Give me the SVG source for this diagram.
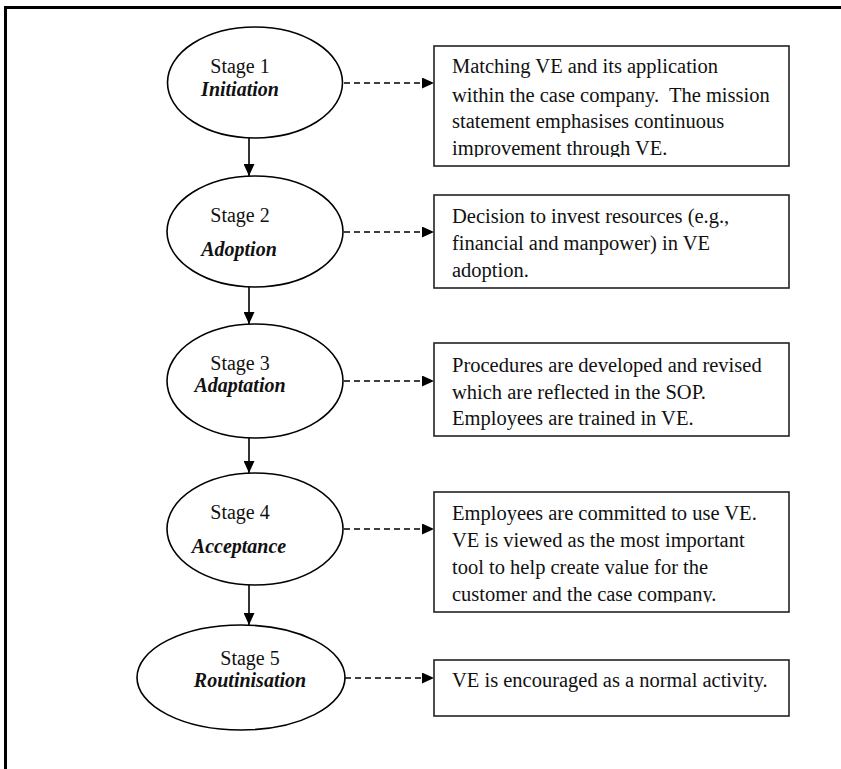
<svg xmlns="http://www.w3.org/2000/svg" width="841" height="769" viewBox="0 0 841 769">
<style>
.frame{fill:none;stroke:#000;stroke-width:3}
.ell{fill:#fff;stroke:#000;stroke-width:1.6}
.box{fill:#fff;stroke:#222;stroke-width:1.6}
.st{font-family:"Liberation Serif","Times New Roman",serif;font-size:20px;fill:#111;text-anchor:middle}
.nm{font-family:"Liberation Serif","Times New Roman",serif;font-size:20px;font-weight:bold;font-style:italic;fill:#111;text-anchor:middle}
.bt{font-family:"Liberation Serif","Times New Roman",serif;font-size:20.5px;fill:#111}
.solid{fill:none;stroke:#000;stroke-width:1.6}
.dash{fill:none;stroke:#000;stroke-width:1.6;stroke-dasharray:6 4}
</style>
<defs>
<marker id="ah" markerWidth="12" markerHeight="11" refX="12" refY="5.5" orient="auto" markerUnits="userSpaceOnUse">
<path d="M0,0 L12,5.5 L0,11 Z" fill="#000"/>
</marker>
<clipPath id="c1"><rect x="434" y="46" width="355" height="111"/></clipPath>
<clipPath id="c4"><rect x="434" y="492" width="355" height="110.5"/></clipPath>
</defs>
<rect width="841" height="769" fill="#fff"/>
<path class="frame" d="M5.5,769 V7.5 H841"/>

<g id="connectors">
<line class="solid" x1="249" y1="138" x2="249" y2="176" marker-end="url(#ah)"/>
<line class="solid" x1="249" y1="287" x2="249" y2="324" marker-end="url(#ah)"/>
<line class="solid" x1="249" y1="438" x2="249" y2="473" marker-end="url(#ah)"/>
<line class="solid" x1="249" y1="585" x2="249" y2="625" marker-end="url(#ah)"/>
<line class="dash" x1="344" y1="83" x2="434" y2="83" marker-end="url(#ah)"/>
<line class="dash" x1="344" y1="232" x2="434" y2="232" marker-end="url(#ah)"/>
<line class="dash" x1="344" y1="381" x2="434" y2="381" marker-end="url(#ah)"/>
<line class="dash" x1="344" y1="529" x2="434" y2="529" marker-end="url(#ah)"/>
<line class="dash" x1="345" y1="678" x2="434" y2="678" marker-end="url(#ah)"/>
</g>

<g id="stage1">
<ellipse class="ell" cx="255" cy="82.5" rx="87.5" ry="55.5"/>
<text class="st" x="240" y="73">Stage 1</text>
<text class="nm" x="240" y="96">Initiation</text>
</g>
<g id="stage2">
<ellipse class="ell" cx="255" cy="231.5" rx="88" ry="55.5"/>
<text class="st" x="240" y="222">Stage 2</text>
<text class="nm" x="239" y="256">Adoption</text>
</g>
<g id="stage3">
<ellipse class="ell" cx="255" cy="381" rx="88" ry="57"/>
<text class="st" x="240" y="370">Stage 3</text>
<text class="nm" x="240" y="392">Adaptation</text>
</g>
<g id="stage4">
<ellipse class="ell" cx="255" cy="529" rx="88" ry="56"/>
<text class="st" x="240" y="519">Stage 4</text>
<text class="nm" x="239" y="553">Acceptance</text>
</g>
<g id="stage5">
<ellipse class="ell" cx="241" cy="677.5" rx="104" ry="52.5"/>
<text class="st" x="250" y="665">Stage 5</text>
<text class="nm" x="250" y="687">Routinisation</text>
</g>

<g id="box1">
<rect class="box" x="434" y="46" width="355" height="120"/>
<g clip-path="url(#c1)">
<text class="bt" x="452" y="73.3">Matching VE and its application</text>
<text class="bt" x="452" y="101.5" xml:space="preserve">within the case company.  The mission</text>
<text class="bt" x="452" y="127.5">statement emphasises continuous</text>
<text class="bt" x="452" y="155">improvement through VE.</text>
</g>
</g>
<g id="box2">
<rect class="box" x="434" y="195" width="355" height="93"/>
<text class="bt" x="452" y="223">Decision to invest resources (e.g.,</text>
<text class="bt" x="452" y="250">financial and manpower) in VE</text>
<text class="bt" x="452" y="277">adoption.</text>
</g>
<g id="box3">
<rect class="box" x="434" y="343" width="355" height="93"/>
<text class="bt" x="452" y="372">Procedures are developed and revised</text>
<text class="bt" x="452" y="398.5">which are reflected in the SOP.</text>
<text class="bt" x="452" y="425">Employees are trained in VE.</text>
</g>
<g id="box4">
<rect class="box" x="434" y="492" width="355" height="120"/>
<g clip-path="url(#c4)">
<text class="bt" x="452" y="520">Employees are committed to use VE.</text>
<text class="bt" x="452" y="547">VE is viewed as the most important</text>
<text class="bt" x="452" y="574">tool to help create value for the</text>
<text class="bt" x="452" y="600.5">customer and the case company.</text>
</g>
</g>
<g id="box5">
<rect class="box" x="434" y="660" width="355" height="56"/>
<text class="bt" x="452" y="687">VE is encouraged as a normal activity.</text>
</g>
</svg>
